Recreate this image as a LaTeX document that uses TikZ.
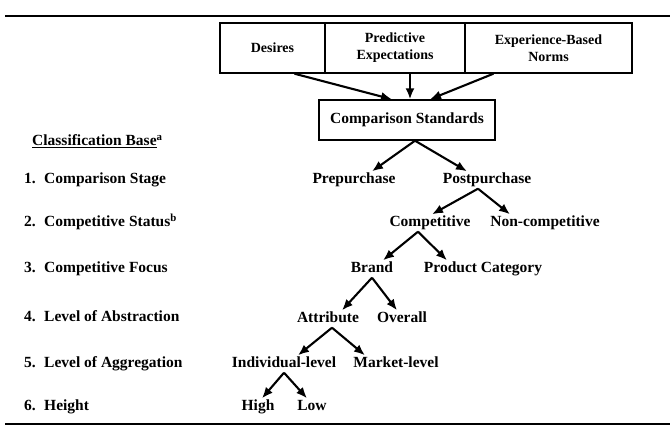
\documentclass[tikz,border=0pt]{standalone}
\usepackage{fontspec}
\setmainfont{Liberation Serif}
\usetikzlibrary{arrows.meta}
\begin{document}
\begin{tikzpicture}[x=1pt,y=-1pt,
  lbl/.style={font=\fontsize{15.5}{18}\selectfont\bfseries, inner sep=2pt, text height=10pt, text depth=3pt},
  side/.style={lbl, anchor=west},
  tbox/.style={draw, line width=1.4pt, font=\fontsize{14}{17}\selectfont\bfseries, align=center, minimum height=50pt, inner sep=0pt},
  arr/.style={line width=2.1pt, -{Latex[length=11pt,width=9pt]}},
  hrule/.style={line width=2.2pt}]
\useasboundingbox (0,0) rectangle (670,428);
% rules
\draw[hrule] (5,16) -- (670,16);
\draw[hrule] (5,424) -- (670,424);
% top boxes
\node[tbox, minimum width=105pt] (d) at (272.5,48) {Desires};
\node[tbox, minimum width=140pt] (p) at (395,48) {Predictive\\Expectations};
\node[tbox, minimum width=167pt] (e) at (548.5,48) {Experience-Based\\Norms};
\node[tbox, minimum width=176pt, minimum height=40pt, font=\fontsize{15.5}{18}\selectfont\bfseries] (cs) at (407,120) {Comparison Standards};
\draw[arr] ([xshift=22pt]d.south) -- ([xshift=-15pt]cs.north);
\draw[arr] ([xshift=15pt]p.south) -- ([xshift=3pt]cs.north);
\draw[arr] ([xshift=-55pt]e.south) -- ([xshift=23pt]cs.north);
% left column
\node[side] (h) at (30,142) {\underline{Classification Base}\textsuperscript{a}};
\node[side] (n1) at (22,180) {1.};
\node[side] (t1) at (42,180) {Comparison Stage};
\node[side] (n2) at (22,223) {2.};
\node[side] (t2) at (42,223) {Competitive Status\textsuperscript{b}};
\node[side] (n3) at (22,269) {3.};
\node[side] (t3) at (42,269) {Competitive Focus};
\node[side] (n4) at (22,318) {4.};
\node[side] (t4) at (42,318) {Level of Abstraction};
\node[side] (n5) at (22,364) {5.};
\node[side] (t5) at (42,364) {Level of Aggregation};
\node[side] (n6) at (22,407) {6.};
\node[side] (t6) at (42,407) {Height};
% tree
\node[lbl] (pre) at (354,180) {Prepurchase};
\node[lbl] (post) at (487,180) {Postpurchase};
\node[lbl] (comp) at (430,223) {Competitive};
\node[lbl] (non) at (545,223) {Non-competitive};
\node[lbl] (brand) at (372,269) {Brand};
\node[lbl] (pc) at (483,269) {Product Category};
\node[lbl] (attr) at (328,319) {Attribute};
\node[lbl] (over) at (402,319) {Overall};
\node[lbl] (ind) at (284,364) {Individual-level};
\node[lbl] (mkt) at (396,364) {Market-level};
\node[lbl] (high) at (258,407) {High};
\node[lbl] (low) at (312,407) {Low};
\draw[arr] ([xshift=8pt]cs.south) -- ([xshift=18pt]pre.north);
\draw[arr] ([xshift=8pt]cs.south) -- ([xshift=-20pt]post.north);
\draw[arr] ([xshift=-9pt]post.south) -- ([xshift=2pt]comp.north);
\draw[arr] ([xshift=-9pt]post.south) -- ([xshift=-35pt]non.north);
\draw[arr] ([xshift=-12pt]comp.south) -- ([xshift=11pt]brand.north);
\draw[arr] ([xshift=-12pt]comp.south) -- ([xshift=-36pt]pc.north);
\draw[arr] (brand.south) -- ([xshift=14pt]attr.north);
\draw[arr] (brand.south) -- ([xshift=-5pt]over.north);
\draw[arr] ([xshift=4pt]attr.south) -- ([xshift=14pt]ind.north);
\draw[arr] ([xshift=4pt]attr.south) -- ([xshift=-31pt]mkt.north);
\draw[arr] ([xshift=0pt]ind.south) -- ([xshift=4pt]high.north);
\draw[arr] ([xshift=0pt]ind.south) -- ([xshift=-5pt]low.north);
\end{tikzpicture}
\end{document}
